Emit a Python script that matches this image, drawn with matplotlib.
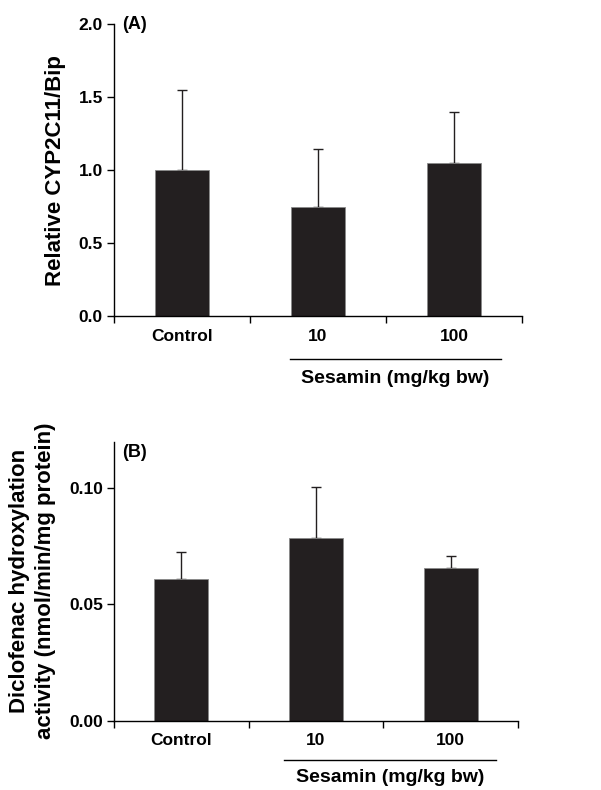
import matplotlib

matplotlib.use("Agg")
import matplotlib.pyplot as plt
import matplotlib.transforms as mtransforms
import numpy as np

plt.rcParams["font.family"] = ["Liberation Sans", "DejaVu Sans"]
plt.rcParams["font.weight"] = "bold"

groups = ["Control", "10", "100"]

# Panel A: relative CYP2C11/Bip (mean, mean + SD)
cyp_mean = [1.00, 0.75, 1.05]
cyp_top = [1.55, 1.145, 1.40]

# Panel B: diclofenac hydroxylation activity (mean, mean + SD)
dic_mean = [0.0611, 0.0787, 0.0657]
dic_top = [0.0724, 0.1004, 0.0710]

BAR_COLOR = "#231f20"


def draw_panel(ax, means, tops, ylim, yticks, ytick_fmt, ylabel, tag, tag_y,
               bracket, bracket_y, text_y, ylabel_x):
    x = np.arange(len(groups))
    means = np.asarray(means)
    err = np.asarray(tops) - means
    ax.bar(x, means, width=0.4, color=BAR_COLOR, edgecolor="#8a8a8a",
           linewidth=0.6, zorder=2)
    ax.errorbar(x, means, yerr=[np.zeros_like(err), err], fmt="none",
                ecolor="#231f20", elinewidth=1.0, capsize=3.5, capthick=1.0,
                zorder=1)

    ax.set_xlim(-0.5, len(groups) - 0.5)
    ax.set_ylim(*ylim)
    ax.set_yticks(yticks)
    ax.set_yticklabels([ytick_fmt.format(v) for v in yticks])
    ax.set_xticks(x)
    ax.set_xticklabels(groups)
    ax.set_xticks(np.arange(len(groups) + 1) - 0.5, minor=True)
    ax.tick_params(axis="x", which="major", length=0, pad=9, labelsize=12.5)
    ax.tick_params(axis="x", which="minor", length=5, width=1.0,
                   direction="out")
    ax.tick_params(axis="y", length=5, width=1.0, direction="out",
                   labelsize=12.5, pad=3)

    for side in ("top", "right"):
        ax.spines[side].set_visible(False)
    for side in ("left", "bottom"):
        ax.spines[side].set_linewidth(1.0)

    ax.set_ylabel(ylabel, fontsize=16, fontweight="bold", linespacing=1.3)
    ax.yaxis.set_label_coords(ylabel_x, 0.5)

    ax.text(0.02, tag_y, tag, transform=ax.transAxes, fontsize=13,
            fontweight="bold", ha="left", va="center")

    trans = mtransforms.blended_transform_factory(ax.transData, ax.transAxes)
    ax.plot(bracket, [bracket_y, bracket_y], color="black", linewidth=1.0,
            transform=trans, clip_on=False)
    ax.text(np.mean(bracket), text_y, "Sesamin (mg/kg bw)", transform=trans,
            ha="center", va="center", fontsize=14, fontweight="bold")


fig = plt.figure(figsize=(6.01, 7.90), dpi=100)

ax_a = fig.add_axes([0.1897, 0.5996, 0.6789, 0.3696])
draw_panel(ax_a, cyp_mean, cyp_top, (0, 2.0), [0.0, 0.5, 1.0, 1.5, 2.0],
           "{:.1f}", "Relative CYP2C11/Bip", "(A)", 1.0,
           (0.794, 2.346), -0.146, -0.212, -0.118)

ax_b = fig.add_axes([0.1897, 0.0877, 0.6722, 0.3532])
draw_panel(ax_b, dic_mean, dic_top, (0, 0.12), [0.00, 0.05, 0.10],
           "{:.2f}", "Diclofenac hydroxylation\nactivity (nmol/min/mg protein)",
           "(B)", 0.963, (0.762, 2.336), -0.141, -0.205, -0.144)

fig.savefig("out.png", dpi=100)
